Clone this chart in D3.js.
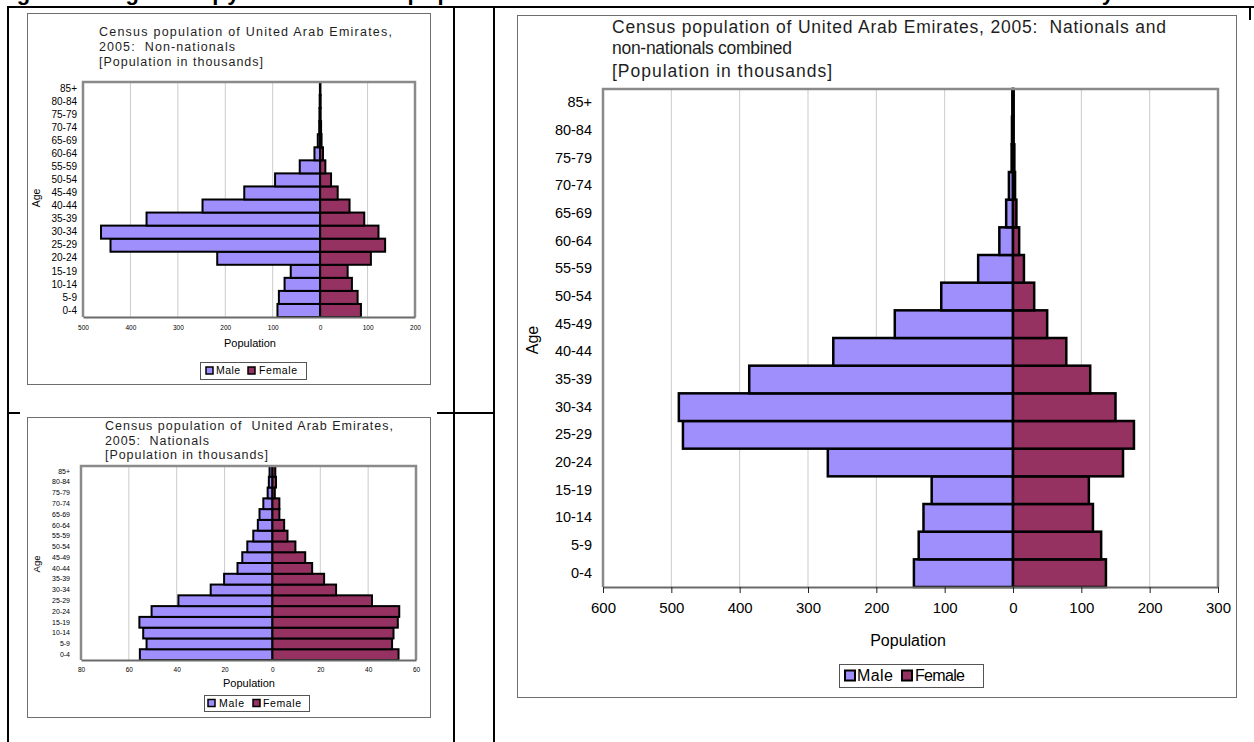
<!DOCTYPE html>
<html>
<head>
<meta charset="utf-8">
<script src="https://cdn.jsdelivr.net/npm/d3@7"></script>
<style>
  body { margin: 0; background: #fff; }
  svg { display: block; }
  text { font-family: "Liberation Sans", Arial, Helvetica, sans-serif; }
</style>
</head>
<body>
<svg id="page" width="1254" height="742"></svg>
<script>
// Age groups, youngest first
const ageGroups = ["0-4", "5-9", "10-14", "15-19", "20-24", "25-29", "30-34", "35-39", "40-44",
                   "45-49", "50-54", "55-59", "60-64", "65-69", "70-74", "75-79", "80-84", "85+"];

// Non-nationals, thousands
const nonNationalMale   = [90, 87, 75, 62, 217, 442, 462, 366, 248, 160, 95, 43, 12, 5, 2, 1.5, 1, 0.5];
const nonNationalFemale = [86, 79, 67, 58, 107, 137, 123, 93, 62, 37, 23, 11, 6, 3, 2, 1, 1, 0.5];

// Nationals, thousands
const nationalMale   = [55.4, 52.6, 54, 55.6, 50.5, 39.3, 25.8, 20.2, 14.6, 12.6, 10.5, 8, 6.1, 5.4, 3.8, 2, 1.5, 1.2];
const nationalFemale = [52.7, 50, 50.6, 52.4, 53, 41.6, 26.6, 21.6, 16.6, 13.7, 9.6, 6.3, 4.9, 2.9, 2.9, 1, 1.5, 1.2];

// Nationals and non-nationals combined, thousands
const combinedMale   = [145, 138, 131, 119, 271, 483, 489, 386, 263, 173, 105, 51, 20, 10, 6, 2, 1.5, 1];
const combinedFemale = [136, 129, 117, 111, 161, 177, 150, 113, 78, 50, 31, 16, 9, 5, 3, 2, 1, 1];

// Axis tick values (males plotted to the left of zero)
const nonNationalTicks = [-500, -400, -300, -200, -100, 0, 100, 200];
const nationalTicks    = [-80, -60, -40, -20, 0, 20, 40, 60];
const combinedTicks    = [-600, -500, -400, -300, -200, -100, 0, 100, 200, 300];

// Titles
const headingText      = "Figure 3: Age-sex pyramids of the population of the United Arab Emirates for each nationality";
const nonNationalTitle = ["Census population of United Arab Emirates,", "2005:  Non-nationals", "[Population in thousands]"];
const nationalTitle    = ["Census population of  United Arab Emirates,", "2005:  Nationals", "[Population in thousands]"];
const combinedTitle    = ["Census population of United Arab Emirates, 2005:  Nationals and", "non-nationals combined", "[Population in thousands]"];
const seriesNames      = ["Male", "Female"];

const FONT = '"Liberation Sans", Arial, Helvetica, sans-serif';
const maleFill = "#9f8ffd";
const femaleFill = "#953262";

const svg = d3.select("#page");

// ---- document table behind the charts ----
const table = svg.append("g").attr("stroke", "#000").attr("stroke-width", 2);
table.append("line").attr("x1", 7).attr("x2", 1254).attr("y1", 7).attr("y2", 7);
[8, 454, 494].forEach(xv =>
  table.append("line").attr("x1", xv).attr("x2", xv).attr("y1", 6).attr("y2", 742));
table.append("line").attr("x1", 1250).attr("x2", 1250).attr("y1", 6).attr("y2", 742);
table.append("line").attr("x1", 8).attr("x2", 494).attr("y1", 413).attr("y2", 413);

// Heading of the document; the page top cuts it just below the baseline
svg.append("text")
  .attr("x", -6).attr("y", 0)
  .attr("font-size", 22).attr("font-weight", "bold")
  .attr("textLength", 1120).attr("lengthAdjust", "spacing")
  .text(headingText);

function drawPyramid(cfg) {
  const g = svg.append("g");
  const [ox, oy, ow, oh] = cfg.obj;
  g.append("rect").attr("x", ox).attr("y", oy).attr("width", ow).attr("height", oh).attr("fill", "#fff");

  const [fx0, fy0, fx1, fy1] = cfg.frame;
  g.append("rect")
    .attr("x", fx0 + 0.5).attr("y", fy0 + 0.5)
    .attr("width", fx1 - fx0).attr("height", fy1 - fy0)
    .attr("fill", "#fff").attr("stroke", "#6f6f6f").attr("stroke-width", 1);

  // Title lines
  cfg.title.forEach((line, i) => {
    g.append("text")
      .attr("x", cfg.titleX).attr("y", cfg.titleY[i])
      .attr("font-size", cfg.titleSize).attr("fill", "#1e1e1e")
      .style("white-space", "pre")
      .attr("textLength", cfg.titleWidths[i]).attr("lengthAdjust", "spacing")
      .text(line);
  });

  const [pl, pt, pr, pb] = cfg.plot;
  const x = d3.scaleLinear().domain(cfg.domain).range([pl, pr]);
  const y = d3.scaleBand().domain(ageGroups).range([pb, pt]).padding(0);

  // Vertical gridlines
  g.append("g").selectAll("line")
    .data(cfg.ticks.filter(t => t !== cfg.domain[0] && t !== cfg.domain[1]))
    .join("line")
    .attr("x1", d => x(d)).attr("x2", d => x(d))
    .attr("y1", pt).attr("y2", pb)
    .attr("stroke", "#cbcbcb").attr("stroke-width", 1);

  // Male bars (left of zero)
  g.append("g").selectAll("rect")
    .data(ageGroups.map((a, i) => ({ age: a, v: cfg.male[i] })))
    .join("rect")
    .attr("x", d => x(-d.v)).attr("width", d => x(0) - x(-d.v))
    .attr("y", d => y(d.age)).attr("height", y.bandwidth())
    .attr("fill", maleFill).attr("stroke", "#000").attr("stroke-width", cfg.barStroke);

  // Female bars (right of zero)
  g.append("g").selectAll("rect")
    .data(ageGroups.map((a, i) => ({ age: a, v: cfg.female[i] })))
    .join("rect")
    .attr("x", x(0)).attr("width", d => x(d.v) - x(0))
    .attr("y", d => y(d.age)).attr("height", y.bandwidth())
    .attr("fill", femaleFill).attr("stroke", "#000").attr("stroke-width", cfg.barStroke);

  // Plot-area border
  g.append("path")
    .attr("d", `M${pl},${pb}V${pt}H${pr}V${pb}`)
    .attr("fill", "none").attr("stroke", "#8a8a8a").attr("stroke-width", cfg.plotStroke);

  // Population axis
  const xa = g.append("g")
    .attr("transform", `translate(0,${pb})`)
    .call(d3.axisBottom(x).tickValues(cfg.ticks).tickFormat(d => Math.abs(d))
      .tickSizeInner(cfg.tickLen).tickSizeOuter(0).tickPadding(cfg.tickPad));
  xa.attr("font-family", FONT).attr("font-size", cfg.tickSize);
  xa.select(".domain").attr("stroke", "#6a6a6a").attr("stroke-width", cfg.axisStroke);
  xa.selectAll(".tick line").attr("stroke", "#222").attr("stroke-width", 1);
  xa.selectAll(".tick text").attr("fill", "#000");

  // Age-group axis
  const ya = g.append("g")
    .attr("transform", `translate(${cfg.catX},0)`)
    .call(d3.axisLeft(y).tickSize(0).tickPadding(0));
  ya.attr("font-family", FONT).attr("font-size", cfg.catSize);
  ya.select(".domain").remove();
  ya.selectAll(".tick text").attr("fill", "#000");

  // Axis titles
  g.append("text")
    .attr("x", cfg.popLabel[0]).attr("y", cfg.popLabel[1])
    .attr("text-anchor", "middle").attr("font-size", cfg.popSize)
    .text("Population");
  g.append("text")
    .attr("transform", `translate(${cfg.ageLabel[0]},${cfg.ageLabel[1]}) rotate(-90)`)
    .attr("text-anchor", "middle").attr("font-size", cfg.ageSize)
    .text("Age");

  // Legend
  const L = cfg.legend;
  const lg = g.append("g");
  lg.append("rect")
    .attr("x", L.box[0] + 0.5).attr("y", L.box[1] + 0.5)
    .attr("width", L.box[2]).attr("height", L.box[3])
    .attr("fill", "#fff").attr("stroke", "#555").attr("stroke-width", 1);
  const cy = L.box[1] + L.box[3] / 2;
  [maleFill, femaleFill].forEach((c, i) => {
    lg.append("rect")
      .attr("x", L.sw[i]).attr("y", cy - L.swSize / 2)
      .attr("width", L.swSize).attr("height", L.swSize)
      .attr("fill", c).attr("stroke", "#000").attr("stroke-width", L.swStroke);
    lg.append("text")
      .attr("x", L.tx[i]).attr("y", cy).attr("dy", "0.36em")
      .attr("font-size", L.size)
      .attr("textLength", L.tw[i]).attr("lengthAdjust", "spacing")
      .text(seriesNames[i]);
  });
}

// Non-nationals
drawPyramid({
  obj: [20, 9, 417, 392], frame: [27, 13, 430, 384],
  title: nonNationalTitle, titleX: 99, titleY: [36, 51, 66], titleSize: 12.5, titleWidths: [293, 136, 164],
  plot: [83, 82, 415, 317], domain: [-500, 200], ticks: nonNationalTicks,
  male: nonNationalMale, female: nonNationalFemale,
  barStroke: 2, plotStroke: 2.5, axisStroke: 2,
  tickLen: 0, tickPad: 8, tickSize: 6.5,
  catX: 77, catSize: 10,
  popLabel: [250, 347], popSize: 11,
  ageLabel: [40, 198], ageSize: 10.5,
  legend: { box: [200, 362, 106, 17], sw: [206, 248], swSize: 7, swStroke: 1.5, tx: [216, 259], tw: [24, 38], size: 10.5 }
});

// Nationals
drawPyramid({
  obj: [20, 406, 417, 319], frame: [27, 417, 430, 717],
  title: nationalTitle, titleX: 105, titleY: [430, 445, 459], titleSize: 12.5, titleWidths: [288, 104, 163],
  plot: [81, 466, 416, 660], domain: [-80, 60], ticks: nationalTicks,
  male: nationalMale, female: nationalFemale,
  barStroke: 2, plotStroke: 2.5, axisStroke: 2,
  tickLen: 0, tickPad: 7, tickSize: 6.5,
  catX: 70, catSize: 7,
  popLabel: [249, 687], popSize: 11,
  ageLabel: [40, 564], ageSize: 9.5,
  legend: { box: [204, 695, 105, 16], sw: [208, 253], swSize: 7, swStroke: 1.5, tx: [219, 263], tw: [25, 38], size: 10.5 }
});

// Nationals and non-nationals combined; its chart object runs over the right cell edge
drawPyramid({
  obj: [505, 20, 749, 722], frame: [517, 15, 1236, 697],
  title: combinedTitle, titleX: 612, titleY: [33, 54, 77], titleSize: 17.5, titleWidths: [554, 180, 220],
  plot: [603, 89, 1218, 587], domain: [-600, 300], ticks: combinedTicks,
  male: combinedMale, female: combinedFemale,
  barStroke: 2.5, plotStroke: 2.5, axisStroke: 2,
  tickLen: 6, tickPad: 9, tickSize: 15,
  catX: 592, catSize: 14.5,
  popLabel: [908, 646], popSize: 16,
  ageLabel: [538, 340], ageSize: 16,
  legend: { box: [839, 664, 144, 23], sw: [845, 902], swSize: 10, swStroke: 2, tx: [857, 915], tw: [36, 50], size: 16 }
});
</script>
</body>
</html>
